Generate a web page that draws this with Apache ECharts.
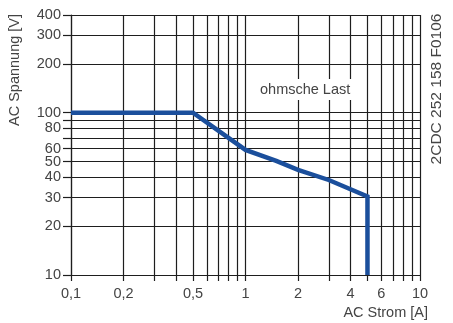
<!DOCTYPE html>
<html><head><meta charset="utf-8">
<script src="https://cdn.jsdelivr.net/npm/echarts@6/dist/echarts.min.js"></script>
<style>html,body{margin:0;padding:0;background:#fff}#c{width:453px;height:323px}</style>
</head><body><div id="c"></div>
<script>
// data
const currentA = [0.1, 0.5, 1, 1.5, 2, 3, 5, 5];
const voltageV = [100, 100, 59, 50.5, 44.5, 38.5, 30.5, 10];
const xGridValues = [0.1,0.2,0.3,0.4,0.5,0.6,0.7,0.8,0.9,1,2,3,4,5,6,7,8,9,10];
const xLabelValues = [0.1,0.2,0.5,1,2,4,6,10];
const yGridValues = [10,20,30,40,50,60,70,80,90,100,200,300,400];
const yLabelValues = [10,20,30,40,50,60,80,100,200,300,400];
const xTitle = 'AC Strom [A]';
const yTitle = 'AC Spannung [V]';
const curveLabel = 'ohmsche Last';
const docId = '2CDC 252 158 F0106';

const FONT = '"Liberation Sans", Arial, sans-serif';
const TXT = '#444';
const LINE = '#1e1e1e';
const chart = echarts.init(document.getElementById('c'));
const fmt = v => String(v).replace('.', ',');
chart.setOption({
  animation: false,
  grid: {left: 71, right: 33, top: 15, bottom: 48},
  xAxis: {
    type: 'log', logBase: 10, min: 0.1, max: 10,
    axisLine: {show: true, lineStyle: {color: LINE, width: 1.2}},
    axisTick: {show: true, length: 6, inside: false, customValues: xGridValues, lineStyle: {color: LINE, width: 1.2}},
    axisLabel: {customValues: xLabelValues, formatter: fmt, color: TXT, fontFamily: FONT, fontSize: 14.5, margin: 11},
    splitLine: {show: true, lineStyle: {color: LINE, width: 1.2}},
    minorTick: {show: false}, minorSplitLine: {show: false}
  },
  yAxis: {
    type: 'log', logBase: 10, min: 10, max: 400,
    axisLine: {show: true, lineStyle: {color: LINE, width: 1.2}},
    axisTick: {show: true, length: 8, inside: false, customValues: yGridValues, lineStyle: {color: LINE, width: 1.2}},
    axisLabel: {customValues: yLabelValues, formatter: fmt, color: TXT, fontFamily: FONT, fontSize: 14.5, margin: 10},
    splitLine: {show: true, lineStyle: {color: LINE, width: 1.2}},
    minorTick: {show: false}, minorSplitLine: {show: false}
  },
  series: [{
    type: 'line',
    data: currentA.map((x, i) => [x, voltageV[i]]),
    symbol: 'none',
    lineStyle: {color: '#1b4f9c', width: 4.5, join: 'miter', cap: 'butt'},
    z: 5
  }],
  graphic: [
    {type: 'text', left: 255, top: 79, z: 10,
     style: {text: curveLabel, font: '14.5px ' + FONT, fill: TXT, backgroundColor: '#fff', padding: [3, 5, 3, 5]}},
    {type: 'text', x: 15, y: 70, rotation: Math.PI / 2, z: 10,
     style: {text: yTitle, font: '14.5px ' + FONT, fill: TXT, align: 'center', verticalAlign: 'middle'}},
    {type: 'text', x: 428, y: 313, z: 10,
     style: {text: xTitle, font: '14.5px ' + FONT, fill: TXT, align: 'right', verticalAlign: 'middle'}},
    {type: 'text', x: 437, y: 89, rotation: Math.PI / 2, z: 10,
     style: {text: docId, font: '15.5px ' + FONT, fill: TXT, align: 'center', verticalAlign: 'middle'}}
  ]
});
</script></body></html>
